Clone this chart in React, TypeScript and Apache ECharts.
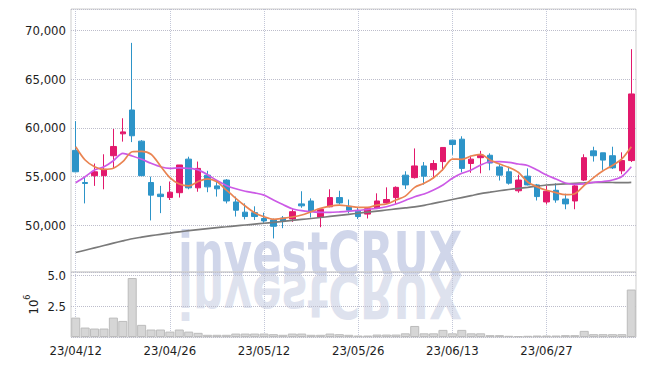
import React, { useEffect, useRef } from 'react';
import * as echarts from 'echarts';

const FONT = '"DejaVu Sans Condensed", "Liberation Sans Narrow", "Liberation Sans", sans-serif';

const dates = [
  '23/04/12','23/04/13','23/04/14','23/04/17','23/04/18','23/04/19','23/04/20','23/04/21','23/04/24','23/04/25',
  '23/04/26','23/04/27','23/04/28','23/05/02','23/05/03','23/05/04','23/05/08','23/05/09','23/05/10','23/05/11',
  '23/05/12','23/05/15','23/05/16','23/05/17','23/05/18','23/05/19','23/05/22','23/05/23','23/05/24','23/05/25',
  '23/05/26','23/05/30','23/05/31','23/06/01','23/06/02','23/06/05','23/06/07','23/06/08','23/06/09','23/06/12',
  '23/06/13','23/06/14','23/06/15','23/06/16','23/06/19','23/06/20','23/06/21','23/06/22','23/06/23','23/06/26',
  '23/06/27','23/06/28','23/06/29','23/06/30','23/07/03','23/07/04','23/07/05','23/07/06','23/07/07','23/07/10',
];

const opens = [57700,54400,55100,55100,57150,59400,61850,58650,54400,53200,52850,53350,56800,53850,55150,54050,54650,52400,51350,51300,50700,50550,50750,50650,52200,52500,50850,51900,52850,51950,51450,51150,51750,52300,52850,55150,54900,56100,55700,56550,58750,58850,56350,56950,57200,56000,55500,53550,55050,54150,52400,53600,52700,52500,54650,57650,57450,57150,55600,56650];
const closes = [55500,54300,55500,55750,58100,59600,59200,55100,53100,52950,53400,56200,53850,55850,53950,53750,52500,51550,50900,50900,50450,49900,50450,51400,52000,51450,51650,52850,52300,51550,50900,51700,52500,52650,53900,54150,56100,55050,56350,58000,58300,55850,56800,57200,56400,55150,54330,54650,54150,52950,53500,52600,52200,54050,56950,57150,56700,55900,56650,63500];
const lows = [55450,52250,54050,53700,55800,58600,58550,55050,50500,51250,52600,52850,53700,53450,53400,52950,52250,50900,50600,50550,50250,48650,49700,50350,51800,50800,49800,51850,52150,51230,50650,50700,51670,52185,52200,53730,54800,54180,54830,55600,57250,55450,55400,55340,55650,54600,54180,53350,54100,52550,52150,52320,51650,51650,54550,56550,55700,55780,55250,56500];
const highs = [60700,54900,56350,57300,59900,61000,68750,58750,55000,54050,54500,56200,57050,56550,55600,54550,54750,52950,52250,51950,51300,50700,50950,51650,53500,52770,51750,53700,53550,52650,51800,51850,53285,53900,54000,55550,57900,56500,56700,58000,58750,59150,57150,57650,57400,56300,56000,55200,55850,54250,54050,54313,53250,54350,57300,58075,57450,58075,57500,68100];

const ma5 = [58075,56708,56020,55752,55855,56533,57561,57600,57300,56100,54900,54241,54050,54500,54780,54477,53624,52771,51979,51290,50879,50612,50715,50850,51054,51393,51743,51979,52082,51979,51846,51846,52082,52185,52596,53000,53902,54313,54889,55752,56811,56780,57120,57294,56708,56297,55950,55450,54450,53950,53600,53350,53150,53250,54100,54900,55600,56150,56830,58075];
const ma10 = [54374,54991,55680,56020,56636,57397,57120,56780,56370,56020,55855,55900,55855,55700,55200,54600,54100,53750,53500,53330,53100,52600,52130,51700,51500,51400,51330,51330,51380,51450,51530,51640,51743,51907,52185,52550,52935,53213,53624,54138,54827,55340,55680,56194,56533,56550,56470,56300,56150,55680,55166,54755,54350,54200,54250,54420,54500,54650,55020,56020];
const maLong = [47200,47440,47680,47920,48160,48400,48620,48780,48930,49070,49200,49330,49450,49560,49660,49760,49850,49940,50030,50120,50210,50300,50400,50500,50600,50700,50800,50910,51020,51130,51240,51350,51460,51570,51680,51790,51900,52050,52250,52450,52650,52850,53050,53250,53400,53550,53680,53790,53900,54030,54140,54200,54260,54320,54360,54400,54420,54400,54380,54420];

// volume in millions of shares
const volumes = [1.58,0.77,0.69,0.69,1.58,1.31,4.81,0.99,0.61,0.61,0.44,0.61,0.44,0.34,0.18,0.18,0.18,0.28,0.28,0.28,0.28,0.23,0.18,0.28,0.28,0.18,0.18,0.28,0.23,0.18,0.12,0.12,0.2,0.2,0.2,0.3,0.9,0.3,0.3,0.58,0.3,0.58,0.3,0.3,0.15,0.15,0.1,0.07,0.1,0.12,0.12,0.12,0.15,0.15,0.5,0.23,0.23,0.23,0.23,3.87];

const priceTicks = [50000, 55000, 60000, 65000, 70000];
const volumeTicks = [2.5, 5];

const UP = '#e2196c';
const DOWN = '#2d94c8';

export default function App() {
  const ref = useRef<HTMLDivElement>(null);
  useEffect(() => {
    if (!ref.current) return;
    const chart = echarts.init(ref.current, undefined, { renderer: 'svg' });
    const candleData = opens.map((o, i) => [o, closes[i], lows[i], highs[i]]);
    const splitStyle = { color: '#c3c7d8', type: 'dotted', width: 1 };
    const labelStyle = { fontFamily: FONT, fontSize: 13, color: '#1e1e1e' };
    const wmStyle = { text: 'investCRUX', fontFamily: FONT, fontWeight: 'bold', fontSize: 60, verticalAlign: 'middle', align: 'left' };
    const option = {
      animation: false,
      backgroundColor: '#ffffff',
      textStyle: { fontFamily: FONT },
      graphic: [
        {
          type: 'text', x: 178, y: 254, scaleX: 0.805, z: -5, silent: true,
          style: { ...wmStyle, fill: '#d0d6ea' },
        },
        {
          type: 'text', x: 178, y: 296, scaleX: 0.805, scaleY: -1, z: -5, silent: true,
          style: { ...wmStyle, fill: '#dee2ee' },
        },
      ],
      grid: [
        { left: 71, right: 9, top: 9, height: 263, show: true, borderColor: '#cfcfcf', borderWidth: 1, backgroundColor: 'transparent' },
        { left: 71, right: 9, top: 272, height: 65, show: true, borderColor: '#cfcfcf', borderWidth: 1, backgroundColor: 'transparent' },
      ],
      xAxis: [
        {
          type: 'category', gridIndex: 0, data: dates, boundaryGap: true,
          axisLine: { show: false }, axisTick: { show: false },
          axisLabel: { show: false, interval: 9 },
          splitLine: { show: true, interval: 9, alignWithLabel: true, lineStyle: splitStyle },
        },
        {
          type: 'category', gridIndex: 1, data: dates, boundaryGap: true,
          axisLine: { show: false }, axisTick: { show: false },
          axisLabel: { show: true, interval: 9, margin: 7, ...labelStyle },
          splitLine: { show: true, interval: 9, alignWithLabel: true, lineStyle: splitStyle },
        },
      ],
      yAxis: [
        {
          type: 'value', gridIndex: 0, min: 45200, max: 72230, splitNumber: 5,
          axisLine: { show: false }, axisTick: { show: false },
          axisLabel: {
            margin: 5, ...labelStyle,
            formatter: (v: number) => (priceTicks.includes(v) ? v.toLocaleString('en-US') : ''),
          },
          splitLine: { show: true, lineStyle: { color: '#bdbdcb', type: 'dotted', width: 1 } },
        },
        {
          type: 'value', gridIndex: 1, min: 0, max: 5.3, interval: 2.5,
          axisLine: { show: false }, axisTick: { show: false },
          axisLabel: {
            margin: 5, ...labelStyle,
            formatter: (v: number) => (volumeTicks.includes(v) ? v.toFixed(1) : ''),
          },
          splitLine: { show: true, lineStyle: { color: '#bdbdcb', type: 'dotted', width: 1 } },
          name: '{a|10}{b|6}',
          nameLocation: 'middle', nameRotate: 90, nameGap: 31, nameMoveOverlap: false,
          nameTextStyle: {
            rich: {
              a: { fontFamily: FONT, fontSize: 13, color: '#1e1e1e', verticalAlign: 'bottom', lineHeight: 18 },
              b: { fontFamily: FONT, fontSize: 9, color: '#1e1e1e', verticalAlign: 'top', lineHeight: 18 },
            },
          },
        },
      ],
      series: [
        {
          type: 'bar', name: 'Volume', xAxisIndex: 1, yAxisIndex: 1, data: volumes,
          barCategoryGap: '4%',
          itemStyle: { color: '#d6d6d6', borderColor: '#bcbcbc', borderWidth: 1 },
        },
        {
          type: 'candlestick', name: 'Price', xAxisIndex: 0, yAxisIndex: 0, data: candleData,
          barWidth: 6,
          itemStyle: { color: UP, color0: DOWN, borderColor: UP, borderColor0: DOWN, borderWidth: 1 },
        },
        {
          type: 'line', name: 'MA long', xAxisIndex: 0, yAxisIndex: 0, data: maLong, smooth: 0.3,
          symbol: 'none', lineStyle: { color: '#7a7a7a', width: 1.7 },
        },
        {
          type: 'line', name: 'MA10', xAxisIndex: 0, yAxisIndex: 0, data: ma10, smooth: 0.3,
          symbol: 'none', lineStyle: { color: '#cc5ae6', width: 1.7 },
        },
        {
          type: 'line', name: 'MA5', xAxisIndex: 0, yAxisIndex: 0, data: ma5, smooth: 0.3,
          symbol: 'none', lineStyle: { color: '#ea8452', width: 1.7 },
        },
      ],
    };
    chart.setOption(option as any);
    return () => chart.dispose();
  }, []);
  return (
    <div
      ref={ref}
      style={{ position: 'fixed', left: 0, top: 0, width: 645, height: 366, background: '#fff' }}
    />
  );
}
